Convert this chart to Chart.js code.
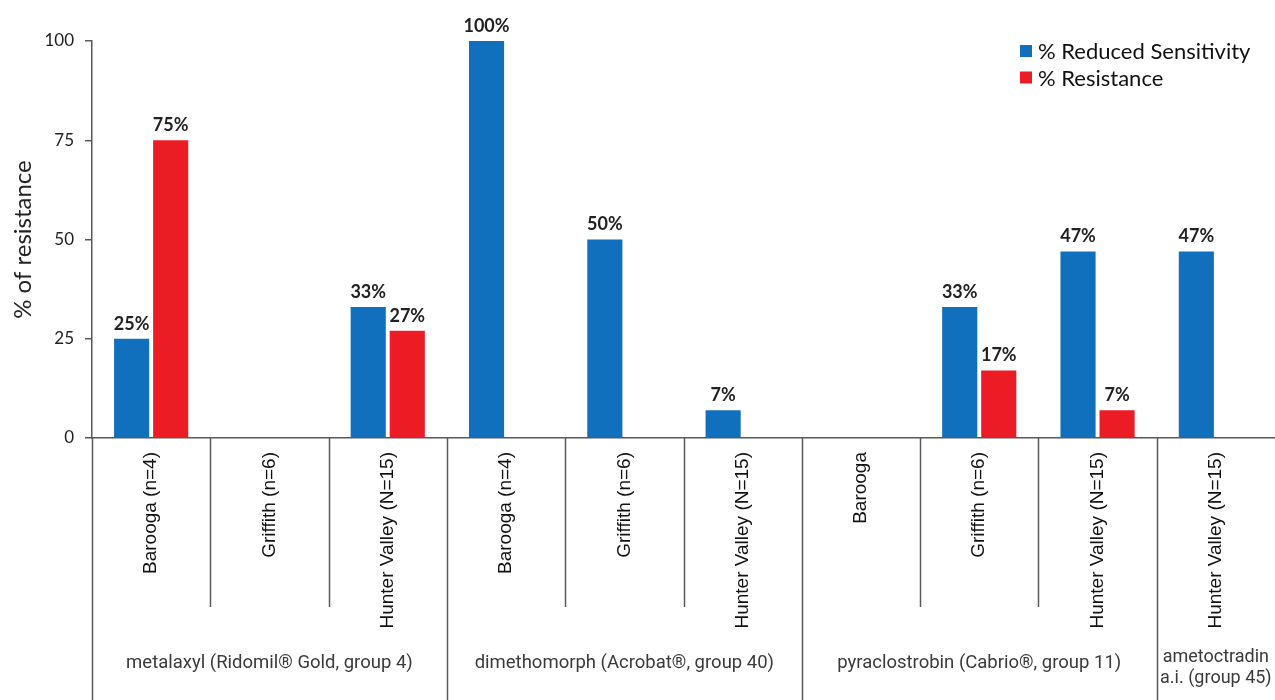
<!DOCTYPE html>
<html>
<head>
<meta charset="utf-8">
<script src="https://cdn.jsdelivr.net/npm/chart.js@4/dist/chart.umd.min.js"></script>
<style>
  html, body { margin: 0; padding: 0; background: #fff; }
  #chart { display: block; }
</style>
</head>
<body>
<canvas id="chart" width="1275" height="700"></canvas>
<script>
// Isolate locations, one bar pair per location
const categories = [
  'Barooga (n=4)', 'Griffith (n=6)', 'Hunter Valley (N=15)',
  'Barooga (n=4)', 'Griffith (n=6)', 'Hunter Valley (N=15)',
  'Barooga', 'Griffith (n=6)', 'Hunter Valley (N=15)',
  'Hunter Valley (N=15)'
];

// Fungicide groups spanning the locations above
const groupNames = [
  'metalaxyl (Ridomil® Gold, group 4)',
  'dimethomorph (Acrobat®, group 40)',
  'pyraclostrobin (Cabrio®, group 11)',
  ['ametoctradin', 'a.i. (group 45)']
];
const groupSizes = [3, 3, 3, 1];

// Percent of isolates (null = none found)
const reducedSensitivity = [25, null, 33, 100, 50, 7, null, 33, 47, 47];
const resistance = [75, null, 27, null, null, null, null, 17, 7, null];

const yTicks = [0, 25, 50, 75, 100];

const BLUE = '#1170bd';
const RED = '#ec1c24';
const AXIS = '#595959';

// Value labels above each bar
const valueLabels = {
  id: 'valueLabels',
  afterDatasetsDraw(chart) {
    const ctx = chart.ctx;
    ctx.save();
    ctx.font = 'bold 18px Lato';
    ctx.fillStyle = '#222';
    ctx.textAlign = 'center';
    ctx.textBaseline = 'bottom';
    chart.data.datasets.forEach((ds, di) => {
      const meta = chart.getDatasetMeta(di);
      meta.data.forEach((el, i) => {
        const v = ds.data[i];
        if (v === null || v === undefined) return;
        ctx.fillText(v + '%', el.x, el.y - 6);
      });
    });
    ctx.restore();
  }
};

// Two-level category axis: separators and fungicide group names
const groupAxis = {
  id: 'groupAxis',
  afterDraw(chart) {
    const ctx = chart.ctx;
    const x = chart.scales.x;
    const area = chart.chartArea;
    const bottom = chart.height;
    const innerBottom = 607;
    const starts = new Set();
    let acc = 0;
    groupSizes.forEach(s => { starts.add(acc); acc += s; });

    ctx.save();
    ctx.strokeStyle = AXIS;
    ctx.lineWidth = 1.5;
    for (let i = 0; i < categories.length; i++) {
      const px = Math.round(x.getPixelForValue(i - 0.5)) + 0.5;
      ctx.beginPath();
      ctx.moveTo(px, area.bottom);
      ctx.lineTo(px, starts.has(i) ? bottom : innerBottom);
      ctx.stroke();
    }

    ctx.font = '18.5px Roboto';
    ctx.fillStyle = '#3a3a3a';
    ctx.textAlign = 'center';
    ctx.textBaseline = 'middle';
    let start = 0;
    groupNames.forEach((name, g) => {
      const end = start + groupSizes[g];
      const cx = (x.getPixelForValue(start - 0.5) + x.getPixelForValue(end - 0.5)) / 2;
      const lines = Array.isArray(name) ? name : [name];
      if (lines.length === 1) {
        ctx.fillText(lines[0], cx, 663);
      } else {
        ctx.font = '18px Roboto';
        lines.forEach((ln, k) => ctx.fillText(ln, cx, 657 + k * 21));
      }
      start = end;
    });
    ctx.restore();
  }
};

// Legend drawn inside the plot's top-right corner
const cornerLegend = {
  id: 'cornerLegend',
  afterDraw(chart) {
    const ctx = chart.ctx;
    const left = 1020;
    ctx.save();
    ctx.font = '22px Lato';
    ctx.textBaseline = 'middle';
    ctx.textAlign = 'left';
    chart.data.datasets.forEach((ds, i) => {
      const cy = 51 + i * 26.5;
      ctx.fillStyle = ds.backgroundColor;
      ctx.fillRect(left, cy - 6, 12, 12);
      ctx.fillStyle = '#111';
      ctx.fillText(ds.label, left + 18, cy + 1);
    });
    ctx.restore();
  }
};

function draw() {
  new Chart(document.getElementById('chart'), {
    type: 'bar',
    data: {
      labels: categories,
      datasets: [
        { label: '% Reduced Sensitivity', data: reducedSensitivity, backgroundColor: BLUE },
        { label: '% Resistance', data: resistance, backgroundColor: RED }
      ]
    },
    options: {
      responsive: false,
      devicePixelRatio: 1,
      animation: false,
      categoryPercentage: 0.66,
      barPercentage: 0.9,
      layout: { padding: { top: 41, right: 0, left: 0, bottom: 0 } },
      plugins: {
        legend: { display: false },
        tooltip: { enabled: false }
      },
      scales: {
        x: {
          grid: { display: true, drawOnChartArea: false, drawTicks: false },
          border: { display: true, color: AXIS, width: 1.5 },
          ticks: {
            autoSkip: false,
            minRotation: 90,
            maxRotation: 90,
            padding: 14,
            color: '#111',
            font: { family: "'Liberation Sans', Arial, sans-serif", size: 19 }
          },
          afterFit(scale) { scale.height = 262; }
        },
        y: {
          min: 0,
          max: 100,
          afterBuildTicks(scale) { scale.ticks = yTicks.map(v => ({ value: v })); },
          grid: { drawOnChartArea: false, drawTicks: true, tickLength: 7, color: AXIS, lineWidth: 1.5 },
          border: { display: true, color: AXIS, width: 1.5 },
          ticks: {
            padding: 11,
            color: '#222',
            font: { family: 'Lato', size: 17 }
          },
          title: {
            display: true,
            text: '% of resistance',
            color: '#222',
            font: { family: 'Lato', size: 24 },
            padding: { top: 9, bottom: 0 }
          },
          afterFit(scale) { scale.width = 92; }
        }
      }
    },
    plugins: [valueLabels, groupAxis, cornerLegend]
  });
}

const fontsWanted = ['18px Lato', 'bold 18px Lato', '18px Roboto', "18px 'Liberation Sans'"];
Promise.all(fontsWanted.map(f => document.fonts.load(f).catch(() => null)))
  .then(draw, draw);
</script>
</body>
</html>
